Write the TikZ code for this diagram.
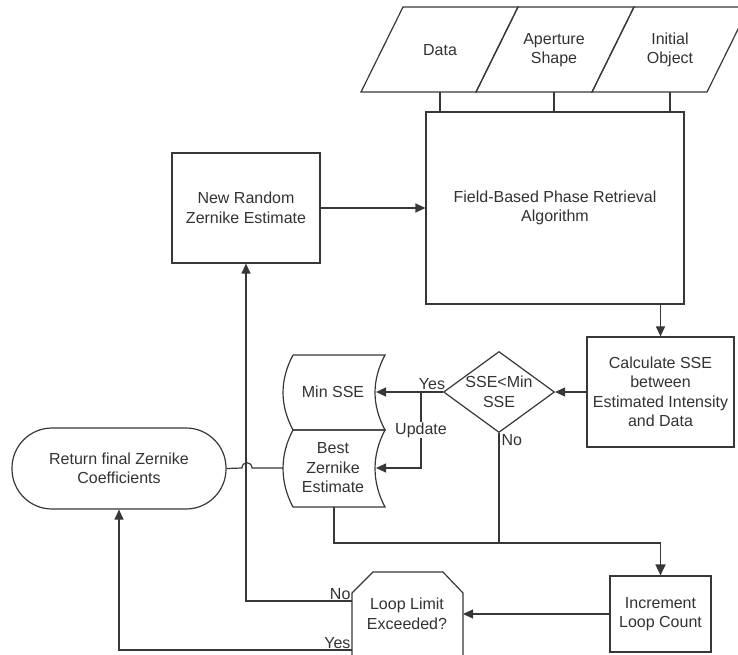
\documentclass[tikz,border=0pt]{standalone}
\usepackage{fontspec}
\setmainfont{Liberation Sans}
\usetikzlibrary{arrows.meta,shapes.geometric}
\definecolor{linec}{RGB}{55,55,55}
\definecolor{textc}{RGB}{50,50,50}
\newcommand\myfs{\fontsize{16pt}{19.5pt}\selectfont}
\begin{document}
\begin{tikzpicture}[x=1pt,y=-1pt,line width=1.2pt,color=linec,
  every node/.style={text=textc},
  box/.style={draw=linec,rectangle,align=center,inner sep=0pt,font=\myfs},
  txt/.style={align=center,inner sep=0pt,font=\myfs},
  lab/.style={inner sep=1pt,font=\myfs},
  arr/.style={-{Triangle[length=10pt,width=9pt]}}]
\useasboundingbox (0,0) rectangle (738,655);
\clip (0,0) rectangle (738,655);
% input parallelograms
\draw (361,92) -- (403,7) -- (518,7) -- (476,92) -- cycle;
\draw (476,92) -- (518,7) -- (634,7) -- (592,92) -- cycle;
\draw (592,92) -- (634,7) -- (749,7) -- (707,92) -- cycle;
\node[txt] (data) at (440,50) {Data};
\node[txt] (aper) at (554,50) {Aperture\\Shape};
\node[txt] (init) at (670,50) {Initial\\Object};
\coordinate (dataB) at (440,92);
\coordinate (aperB) at (554,92);
\coordinate (initB) at (670,92);
% boxes
\node[box,minimum width=258pt,minimum height=192pt] (field) at (555,208) {Field-Based Phase Retrieval\\Algorithm};
\node[box,minimum width=148pt,minimum height=110pt] (nr) at (246,208) {New Random\\Zernike Estimate};
\node[box,minimum width=147pt,minimum height=110pt] (calc) at (660.5,392) {Calculate SSE\\between\\Estimated Intensity\\and Data};
\node[box,minimum width=101pt,minimum height=76pt] (inc) at (660.5,614) {Increment\\Loop Count};
\node[draw=linec,diamond,minimum width=111pt,minimum height=81pt,inner sep=0pt] (dia) at (499,392) {};
\node[txt] (diat) at (dia.center) {SSE<Min\\SSE};
\node[draw=linec,rectangle,rounded corners=40pt,minimum width=214pt,minimum height=81pt,inner sep=0pt,align=center,font=\myfs] (ret) at (119,468.5) {Return final Zernike\\Coefficients};
% stored data shapes
\draw (293,355) -- (385,355) .. controls (371.7,380) and (371.7,405) .. (385,430) -- (293,430) .. controls (279.7,405) and (279.7,380) .. (293,355);
\draw (293,430) -- (385,430) .. controls (371.7,455) and (371.7,482) .. (385,507) -- (293,507) .. controls (279.7,482) and (279.7,455) .. (293,430);
\node[txt] (minsse) at (333,392) {Min SSE};
\node[txt] (best) at (333,468) {Best\\Zernike\\Estimate};
\coordinate (minR) at (376,392);
\coordinate (bestR) at (376,468);
\coordinate (bestL) at (283,468);
\coordinate (bestB) at (334,507);
% loop limit shape
\draw (352,700) -- (352,593) -- (373,572) -- (443,572) -- (463,593) -- (463,700);
\node[txt] (loop) at (407,614) {Loop Limit\\Exceeded?};
\coordinate (loopR) at (463,614);
\coordinate (loopNo) at (352,601);
\coordinate (loopYes) at (352,650);
% connectors
\draw (dataB) -- (dataB |- field.north);
\draw (aperB) -- (aperB |- field.north);
\draw (initB) -- (initB |- field.north);
\draw[arr] (nr.east) -- (field.west);
\draw[arr] (calc.north |- field.south) -- (calc.north);
\draw[arr] (calc.west) -- (dia.east);
\draw[arr] (dia.west) -- (minR);
\coordinate (upd) at (421,392);
\draw[arr] (upd) -- (421,468) -- (bestR);
\node[lab,fill=white] (updl) at (421,430) {Update};
\node[lab,anchor=south] (yes1) at (432,391) {Yes};
\node[lab,anchor=north west] (no1) at (500,433) {No};
\coordinate (merge) at (660.5,543);
\draw (dia.south) -- (dia.south |- merge);
\draw (bestB) |- (merge);
\draw[line width=1.8pt,-{Triangle[length=11pt,width=10pt]}] (dia.south |- merge) -- (merge) -- (inc.north);
\draw[arr] (inc.west) -- (loopR);
\draw[arr] (loopNo) -| (nr.south);
\draw[arr] (loopYes) -| (ret.south);
\draw (bestL) -- (252,468) .. controls (252,461) and (242,461) .. (242,468) -- (ret.east);
\node[lab,anchor=south east] (no2) at (352,601) {No};
\node[lab,anchor=south east] (yes2) at (352,650) {Yes};
\end{tikzpicture}
\end{document}
